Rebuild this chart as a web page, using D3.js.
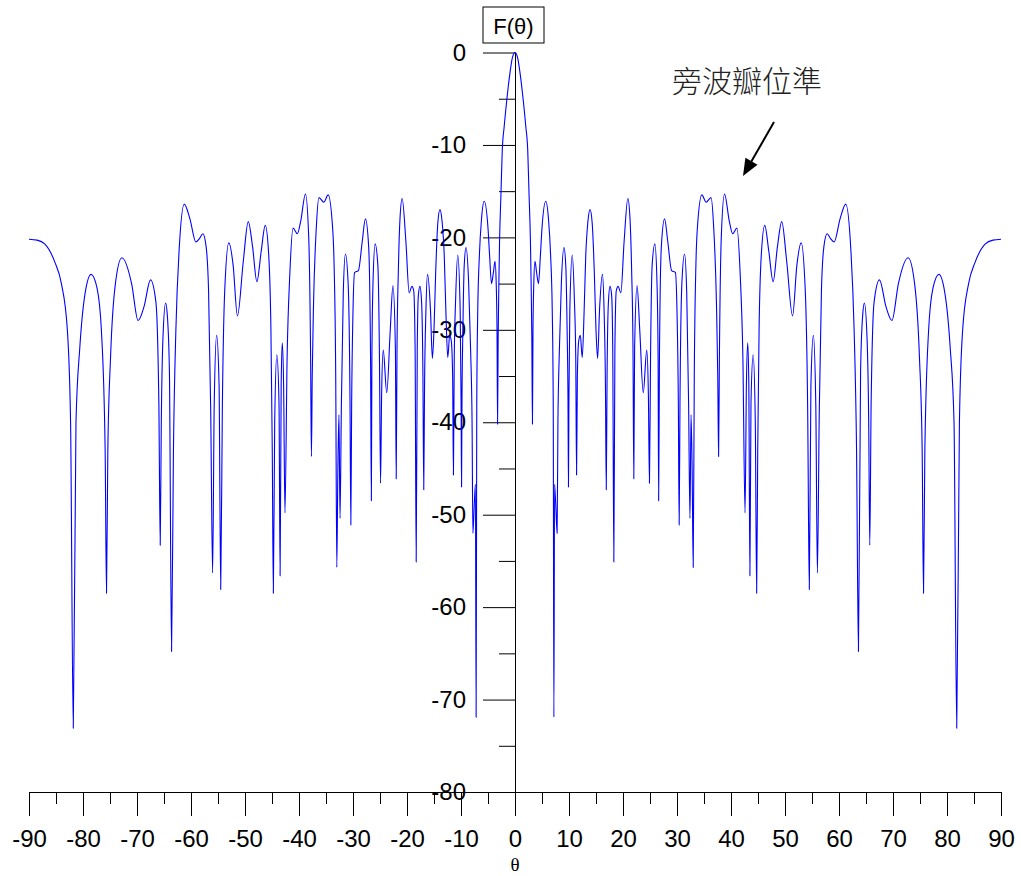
<!DOCTYPE html>
<html>
<head>
<meta charset="utf-8">
<script src="https://cdn.jsdelivr.net/npm/d3@7"></script>
<style>
  html, body { margin: 0; padding: 0; background: #fff; }
  svg { display: block; }
</style>
</head>
<body>
<svg id="chart" width="1021" height="876"></svg>
<script>
// ---- data ----
const angleLeft = [-90,-88.5,-87.1,-85.2,-84.0,-82.9,-82.3,-81.8,-81.3,-80.6,
  -79.6,-78.5,-77.4,-76.6,-75.9,-75.65,-75.4,-74.9,-74.0,-72.8,
  -71.0,-69.8,-68.7,-67.5,-66.5,-65.95,-65.7,-65.5,-65.2,-64.7,
  -64.4,-64.0,-63.6,-63.25,-62.8,-62.2,-61.25,-60.2,-59.1,-58.4,
  -57.8,-57.2,-56.75,-56.35,-56.0,-55.7,-55.25,-54.8,-54.5,-54.2,
  -53.75,-53.0,-52.2,-51.4,-50.3,-49.4,-48.6,-47.8,-47.0,-46.25,
  -45.6,-45.2,-44.95,-44.75,-44.5,-44.1,-43.7,-43.5,-43.3,-43.1,
  -42.85,-42.6,-42.2,-41.7,-41.1,-40.3,-39.7,-38.8,-38.2,-37.85,
  -37.7,-37.55,-37.3,-36.8,-36.3,-35.4,-34.6,-33.75,-33.5,-33.2,
  -33.0,-32.8,-32.6,-32.4,-32.15,-31.8,-31.4,-30.9,-30.55,-30.4,
  -30.25,-30.0,-29.7,-29.0,-28.3,-27.7,-27.1,-26.75,-26.6,-26.5,
  -26.3,-25.9,-25.4,-25.1,-24.9,-24.7,-24.4,-23.75,-23.1,-22.6,
  -22.15,-22.0,-21.85,-21.6,-21.3,-20.9,-20.2,-19.6,-19.1,-18.75,
  -18.5,-18.3,-18.1,-17.9,-17.6,-17.3,-17.05,-16.9,-16.75,-16.5,
  -16.2,-15.65,-15.3,-15.0,-14.7,-14.3,-13.9,-13.5,-13.1,-12.8,
  -12.45,-12.1,-11.8,-11.55,-11.4,-11.25,-11.0,-10.6,-10.15,-9.98,
  -9.9,-9.82,-9.65,-9.4,-9.07,-8.6,-8.2,-7.95,-7.8,-7.55,
  -7.33,-7.2,-7.08,-6.9,-6.6,-6.2,-5.7,-5.0,-4.7,-4.35,
  -4.0,-3.7,-3.48,-3.33,-3.23,-3.12,-2.98,-2.86,-2.6,-2.36,
  -2.0,-1.55,-0.93,-0.5];
const levelLeft = [-20.2,-20.3,-20.7,-22.7,-25,-30,-40,-73.1,-40,-32,
  -26,-24,-25.5,-30,-43,-58.5,-43,-33,-25,-22.2,
  -25,-29,-27.5,-24.6,-27,-38,-53.3,-40,-31,-27.1,
  -28.3,-34.4,-64.8,-43,-30,-21.4,-16.4,-18,-20.5,-20.1,
  -19.6,-21,-25.7,-38.7,-56.3,-38,-30.6,-36,-58.1,-38.7,
  -25.7,-20.6,-23,-28.5,-22.5,-18.3,-21,-24.8,-21.5,-18.7,
  -22,-30,-43,-58.5,-40,-32.7,-38,-56.6,-36,-31.4,
  -36,-49.8,-33,-24,-19,-19.6,-18.3,-15.3,-20,-33,
  -43.7,-35,-27,-19,-15.7,-16.2,-15.4,-19.2,-23,-35,
  -55.7,-45,-39.2,-50.4,-38,-26,-21.8,-25,-38,-51.1,
  -38,-28,-23.8,-23.6,-20.5,-18,-21,-33,-48.5,-33,
  -25,-20.7,-23,-33,-46.6,-37,-32.2,-36.8,-30,-25.2,
  -32,-46.1,-32,-23.6,-18,-15.8,-20.5,-26,-25.3,-25.8,
  -32,-55.1,-32,-26.3,-25.3,-27,-35,-47.3,-36,-28,
  -24,-27.9,-33.1,-30,-24,-18.5,-17,-18.3,-22,-28,
  -33,-30.6,-31.2,-35,-45.7,-33,-26.8,-21.9,-28,-38,
  -47,-38,-30,-23,-21.1,-24.7,-32.6,-40,-52,-49,
  -46.7,-71.9,-38,-28,-22,-18,-16.1,-19,-22,-25,
  -23.8,-22.6,-25,-30,-40.2,-31,-24.7,-20.5,-15.3,-10.6,
  -8.0,-5.3,-2.2,-0.6];
const angleRight = [0,0.5,0.93,1.55,2.0,2.36,2.6,2.86,2.98,3.12,
  3.23,3.33,3.48,3.7,4.0,4.35,4.7,5.0,5.7,6.2,
  6.6,6.9,7.08,7.2,7.33,7.55,7.8,7.95,8.2,8.6,
  9.07,9.4,9.65,9.82,9.9,9.98,10.15,10.6,11.0,11.25,
  11.4,11.55,11.8,12.1,12.45,12.8,13.1,13.5,13.9,14.3,
  14.7,15.0,15.3,15.65,16.2,16.5,16.75,16.9,17.05,17.3,
  17.6,17.9,18.1,18.3,18.5,18.75,19.1,19.6,20.2,20.9,
  21.3,21.6,21.85,22.0,22.15,22.6,23.1,23.75,24.4,24.7,
  24.9,25.1,25.4,25.9,26.3,26.5,26.6,26.75,27.1,27.7,
  28.3,29.0,29.7,30.0,30.25,30.4,30.55,30.9,31.4,31.8,
  32.15,32.4,32.6,32.8,33.0,33.2,33.5,33.75,34.6,35.4,
  36.3,36.8,37.3,37.55,37.7,37.85,38.2,38.8,39.7,40.3,
  41.1,41.7,42.2,42.6,42.85,43.1,43.3,43.5,43.7,44.1,
  44.5,44.75,44.95,45.2,45.6,46.25,47.0,47.8,48.6,49.4,
  50.3,51.4,52.2,53.0,53.75,54.2,54.5,54.8,55.25,55.7,
  56.0,56.35,56.75,57.2,57.8,58.4,59.1,60.2,61.25,62.2,
  62.8,63.25,63.6,64.0,64.4,64.7,65.2,65.5,65.7,65.95,
  66.5,67.5,68.7,69.8,71.0,72.8,74.0,74.9,75.4,75.65,
  75.9,76.6,77.4,78.5,79.6,80.6,81.3,81.8,82.3,82.9,
  84.0,85.2,87.1,88.5,90];
const levelRight = [0,-0.6,-2.2,-5.3,-8.0,-10.6,-15.3,-20.5,-24.7,-31,
  -40.2,-30,-25,-22.6,-23.8,-25,-22,-19,-16.1,-18,
  -22,-28,-38,-71.9,-46.7,-49,-52,-40,-32.6,-24.7,
  -21.1,-23,-30,-38,-47,-38,-28,-21.9,-26.8,-33,
  -45.7,-35,-31.2,-30.6,-33,-28,-22,-18.3,-17,-18.5,
  -24,-30,-33.1,-27.9,-24,-28,-36,-47.3,-35,-27,
  -25.3,-26.3,-32,-55.1,-32,-25.8,-25.3,-26,-20.5,-15.8,
  -18,-23.6,-32,-46.1,-32,-25.2,-30,-36.8,-32.2,-37,
  -46.6,-33,-23,-20.7,-25,-33,-48.5,-33,-21,-18,
  -20.5,-23.6,-23.8,-28,-38,-51.1,-38,-25,-21.8,-26,
  -38,-50.4,-39.2,-45,-55.7,-35,-23,-19.2,-15.4,-16.2,
  -15.7,-19,-27,-35,-43.7,-33,-20,-15.3,-18.3,-19.6,
  -19,-24,-33,-49.8,-36,-31.4,-36,-56.6,-38,-32.7,
  -40,-58.5,-43,-30,-22,-18.7,-21.5,-24.8,-21,-18.3,
  -22.5,-28.5,-23,-20.6,-25.7,-38.7,-58.1,-36,-30.6,-38,
  -56.3,-38.7,-25.7,-21,-19.6,-20.1,-20.5,-18,-16.4,-21.4,
  -30,-43,-64.8,-34.4,-28.3,-27.1,-31,-40,-53.3,-38,
  -27,-24.6,-27.5,-29,-25,-22.2,-25,-33,-43,-58.5,
  -43,-30,-25.5,-24,-26,-32,-40,-73.1,-40,-30,
  -25,-22.7,-20.7,-20.3,-20.2];

const xMajorTicks = [-90,-80,-70,-60,-50,-40,-30,-20,-10,0,10,20,30,40,50,60,70,80,90];
const xMinorTicks = [-85,-75,-65,-55,-45,-35,-25,-15,-5,5,15,25,35,45,55,65,75,85];
const yMajorTicks = [0,-10,-20,-30,-40,-50,-60,-70,-80];
const yMinorTicks = [-5,-15,-25,-35,-45,-55,-65,-75];
const titleText = "F(θ)";
const xLabelText = "θ";
const annotationText = "旁波瓣位準";

// ---- drawing ----
const svg = d3.select("#chart");
const x = d3.scaleLinear().domain([-90, 90]).range([29, 1001]);
const y = d3.scaleLinear().domain([-80, 0]).range([792, 52.5]);
const FONT = "'Liberation Sans', Arial, Helvetica, sans-serif";
const fmt = d => String(d); // plain hyphen-minus, as in the reference

const angles = angleLeft.concat(angleRight);
const levels = levelLeft.concat(levelRight);
const pts = angles.map((a, i) => [a, levels[i]]).filter(d => d[1] !== undefined);

// x axis (at y = -80)
const gx = svg.append("g").attr("transform", `translate(0,${y(-80)})`);
gx.call(d3.axisBottom(x).tickValues(xMajorTicks).tickSize(24).tickSizeOuter(0).tickPadding(14).tickFormat(fmt));
const gx2 = svg.append("g").attr("transform", `translate(0,${y(-80)})`);
gx2.call(d3.axisBottom(x).tickValues(xMinorTicks).tickSize(12).tickSizeOuter(0).tickFormat(""));
gx2.select(".domain").remove();

// y axis (at x = 0)
const gy = svg.append("g").attr("transform", `translate(${x(0)},0)`);
gy.call(d3.axisLeft(y).tickValues(yMajorTicks).tickSize(32).tickSizeOuter(0).tickPadding(17).tickFormat(fmt));
const gy2 = svg.append("g").attr("transform", `translate(${x(0)},0)`);
gy2.call(d3.axisLeft(y).tickValues(yMinorTicks).tickSize(16).tickSizeOuter(0).tickFormat(""));
gy2.select(".domain").remove();

svg.selectAll(".tick text").attr("font-family", FONT).attr("font-size", 24).attr("fill", "#000");
svg.selectAll(".domain, .tick line").attr("stroke", "#000").attr("stroke-width", 1);

// curve
svg.append("path")
  .datum(pts)
  .attr("fill", "none")
  .attr("stroke", "#0000ff")
  .attr("stroke-width", 1.1)
  .attr("d", d3.line().x(d => x(d[0])).y(d => y(d[1])).curve(d3.curveMonotoneX));

// title box
svg.append("rect").attr("x", 483).attr("y", 7).attr("width", 61).attr("height", 36)
  .attr("fill", "#fff").attr("stroke", "#000").attr("stroke-width", 1);
svg.append("text").attr("x", 513.5).attr("y", 26).attr("text-anchor", "middle")
  .attr("dominant-baseline", "central").attr("font-family", FONT).attr("font-size", 22)
  .text(titleText);

// x label
svg.append("text").attr("x", x(0)).attr("y", 864).attr("text-anchor", "middle")
  .attr("dominant-baseline", "central").attr("font-family", "'Liberation Serif', 'DejaVu Serif', serif")
  .attr("font-size", 19).text(xLabelText);

// annotation
svg.append("text").attr("x", 672).attr("y", 79).attr("dominant-baseline", "central")
  .attr("font-family", "'Noto Sans CJK TC', 'Noto Sans CJK SC', sans-serif").attr("font-weight", 300)
  .attr("font-size", 30).attr("fill", "#222").text(annotationText);

// arrow
const a0 = [774, 122], a1 = [743, 176];
const dx = a1[0] - a0[0], dy = a1[1] - a0[1], L = Math.hypot(dx, dy);
const ux = dx / L, uy = dy / L, hl = 17, hw = 7;
const bx = a1[0] - ux * hl, by = a1[1] - uy * hl;
svg.append("line").attr("x1", a0[0]).attr("y1", a0[1]).attr("x2", bx + ux * 2).attr("y2", by + uy * 2)
  .attr("stroke", "#000").attr("stroke-width", 2);
svg.append("polygon")
  .attr("points", [[a1[0], a1[1]], [bx - uy * hw, by + ux * hw], [bx + uy * hw, by - ux * hw]].map(p => p.join(",")).join(" "))
  .attr("fill", "#000");
</script>
</body>
</html>
